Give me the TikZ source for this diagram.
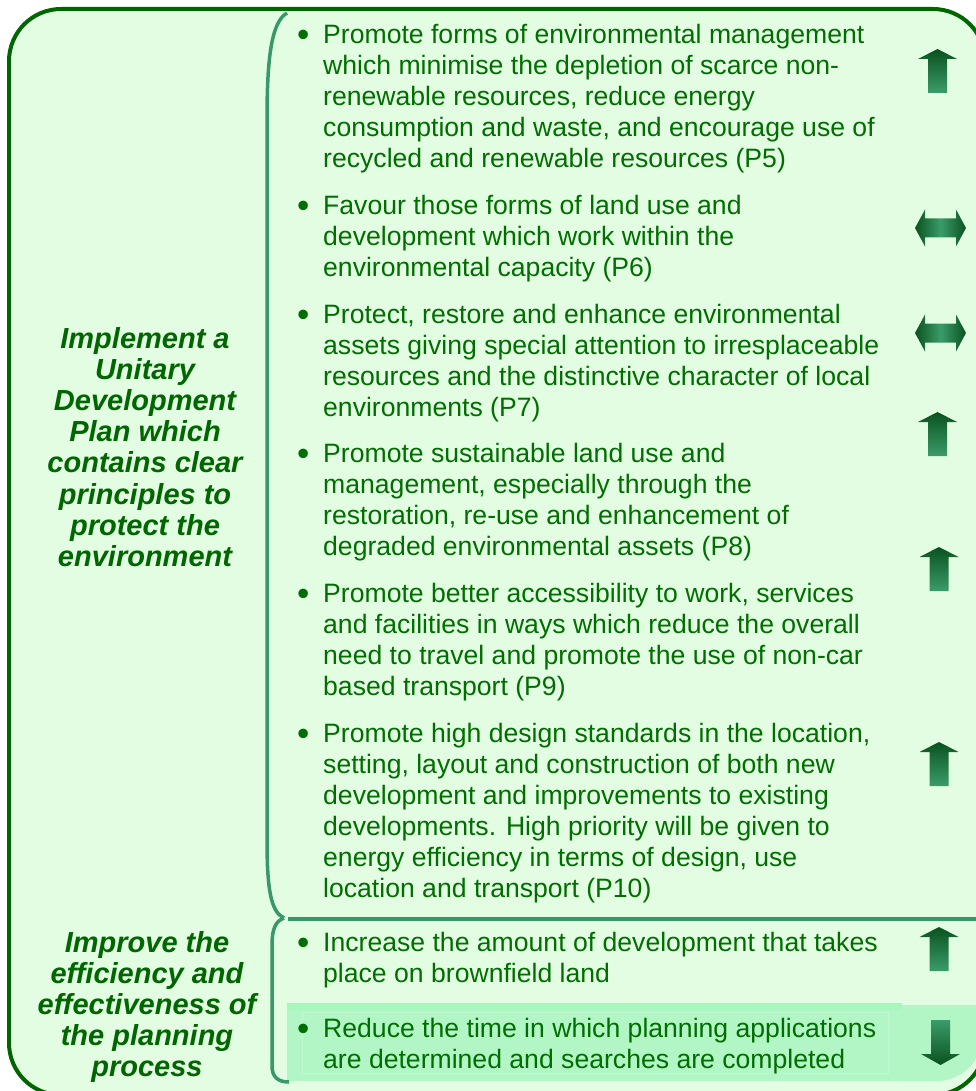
\documentclass[tikz,border=0pt]{standalone}
\usepackage{fontspec}
\setmainfont{Liberation Sans}
\definecolor{fillg}{RGB}{227,253,227}
\definecolor{borderg}{RGB}{0,102,0}
\definecolor{braceg}{RGB}{56,152,106}
\definecolor{txtg}{RGB}{0,110,0}
\definecolor{hlA}{RGB}{166,247,188}
\definecolor{hlB}{RGB}{178,246,198}
\definecolor{hlC}{RGB}{192,249,208}
\definecolor{arrD}{RGB}{10,82,30}
\definecolor{arrL}{RGB}{58,156,106}
\newcommand\myup[2]{\shade[top color=arrD,bottom color=arrL] (#1,#2) -- ++(19.5,10) -- ++(-10,0) -- ++(0,34) -- ++(-19,0) -- ++(0,-34) -- ++(-10,0) -- cycle;}
\newcommand\mydown[2]{\shade[top color=arrL,bottom color=arrD] (#1,#2) -- ++(19.5,-11) -- ++(-10,0) -- ++(0,-34) -- ++(-19,0) -- ++(0,34) -- ++(-10,0) -- cycle;}
\newcommand\mydbl[2]{\shade[left color=arrD,right color=arrD,middle color=arrL] (#1,#2) -- ++(10,-18.5) -- ++(0,9) -- ++(31,0) -- ++(0,-9) -- ++(10,18.5) -- ++(-10,18.5) -- ++(0,-9) -- ++(-31,0) -- ++(0,9) -- cycle;}
\newcommand\bul{\makebox[26pt][l]{\fontsize{35}{31}\selectfont\raisebox{-3pt}{•}}}
\tikzset{
  outerbox/.style={draw=borderg, line width=4pt, fill=fillg, rounded corners=52pt},
  bracestyle/.style={draw=braceg, line width=3.5pt},
  itemtxt/.style={inner sep=0pt, anchor=base west, text=txtg, font=\fontsize{26.6}{31}\selectfont},
  lbl/.style={inner sep=0pt, anchor=base, text=borderg, font=\fontsize{29}{31.2}\selectfont\bfseries\itshape},
}
\begin{document}
\begin{tikzpicture}[x=1pt,y=-1pt]
\useasboundingbox (0,0) rectangle (976,1091);
\fill[white] (0,0) rectangle (976,1091);
\begin{scope}
\clip (0,0) rectangle (976,1091);
\path[outerbox] (9,9) rectangle (985,1095);
% highlight of last row
\fill[hlB] (287,1003) rectangle (902,1081);
\fill[hlA] (287,1003) rectangle (902,1010);
\draw[hlC, line width=1pt] (302,1012) rectangle (888,1073);
\fill[hlB] (902,1005) -- (982,1005) -- (982,1036) arc[start angle=0, end angle=90, radius=45] -- (902,1081) -- cycle;
% braces and separator
\coordinate (btop) at (287,13);
\coordinate (bmid) at (284,918);
\coordinate (bbot) at (289,1082);
\coordinate (sepL) at (288,919);
\coordinate (sepR) at (990,919);
\draw[bracestyle] (btop) .. controls (271,22) and (267,60) .. (267,120) -- (267,840) .. controls (267,890) and (271,912) .. (bmid);
\draw[bracestyle] (bmid) .. controls (276,921) and (272,928) .. (272,945) -- (272,1066) .. controls (272,1077) and (278,1082) .. (bbot);
\draw[bracestyle] (sepL) -- (sepR);
\end{scope}
% left labels
\node[lbl] (goal1) at (145,348) {\begin{tabular}[t]{@{}c@{}}Implement a\\Unitary\\Development\\Plan which\\contains clear\\principles to\\protect the\\environment\end{tabular}};
\node[lbl] (goal2) at (147,952) {\begin{tabular}[t]{@{}c@{}}Improve the\\efficiency and\\effectiveness of\\the planning\\process\end{tabular}};
% items
\node[itemtxt] (p5) at (297,43.6) {\begin{tabular}[t]{@{}l@{}l@{}}\bul & Promote forms of environmental management\\
 & which minimise the depletion of scarce non-\\
 & renewable resources, reduce energy\\
 & consumption and waste, and encourage use of\\
 & recycled and renewable resources (P5)\end{tabular}};
\node[itemtxt] (p6) at (297,214.3) {\begin{tabular}[t]{@{}l@{}l@{}}\bul & Favour those forms of land use and\\
 & development which work within the\\
 & environmental capacity (P6)\end{tabular}};
\node[itemtxt] (p7) at (297,323) {\begin{tabular}[t]{@{}l@{}l@{}}\bul & Protect, restore and enhance environmental\\
 & assets giving special attention to irresplaceable\\
 & resources and the distinctive character of local\\
 & environments (P7)\end{tabular}};
\node[itemtxt] (p8) at (297,462.7) {\begin{tabular}[t]{@{}l@{}l@{}}\bul & Promote sustainable land use and\\
 & management, especially through the\\
 & restoration, re-use and enhancement of\\
 & degraded environmental assets (P8)\end{tabular}};
\node[itemtxt] (p9) at (297,602.4) {\begin{tabular}[t]{@{}l@{}l@{}}\bul & Promote better accessibility to work, services\\
 & and facilities in ways which reduce the overall\\
 & need to travel and promote the use of non-car\\
 & based transport (P9)\end{tabular}};
\node[itemtxt] (p10) at (297,742.1) {\begin{tabular}[t]{@{}l@{}l@{}}\bul & Promote high design standards in the location,\\
 & setting, layout and construction of both new\\
 & development and improvements to existing\\
 & developments. High priority will be given to\\
 & energy efficiency in terms of design, use\\
 & location and transport (P10)\end{tabular}};
\node[itemtxt] (p11) at (297,951) {\begin{tabular}[t]{@{}l@{}l@{}}\bul & Increase the amount of development that takes\\
 & place on brownfield land\end{tabular}};
\node[itemtxt] (p12) at (297,1037) {\begin{tabular}[t]{@{}l@{}l@{}}\bul & Reduce the time in which planning applications\\
 & are determined and searches are completed\end{tabular}};
% trend arrows
\myup{937.5}{49}
\mydbl{915}{228}
\mydbl{915}{333}
\myup{937.5}{412}
\myup{939}{547}
\myup{939}{742}
\myup{939}{927}
\mydown{940.5}{1065}
\end{tikzpicture}
\end{document}
